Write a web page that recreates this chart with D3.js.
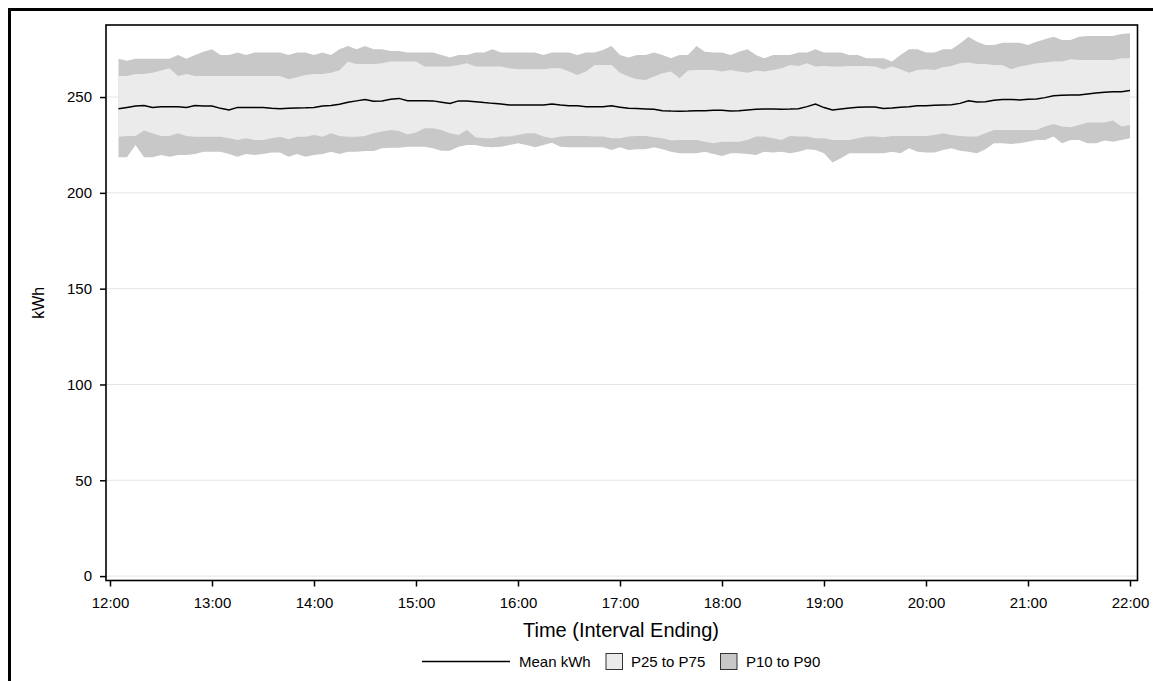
<!DOCTYPE html>
<html>
<head>
<meta charset="utf-8">
<script src="https://cdn.jsdelivr.net/npm/d3@7"></script>
<style>
  body { margin: 0; background: #fff; }
  svg { display: block; font-family: "Liberation Sans", Arial, sans-serif; }
</style>
</head>
<body>
<div id="chart"></div>
<script>
// 5 minute intervals, 12:05 .. 22:00
var startTime = new Date(2020, 0, 1, 12, 5);
var stepMinutes = 5;

var p90 = [270, 269, 270, 270, 270, 270, 270, 272, 270, 272, 273.7, 275,
  272, 272, 273.3, 272, 273.3, 273.3, 273.3, 273.3, 272, 273.3, 273.3, 272,
  273.3, 272, 275, 276.6, 275, 276.6, 275, 275, 274, 274,
  273.2, 273.2, 273.2, 273.2, 272.0, 270.7, 272.0, 272.0, 273.2, 273.2, 274.9, 273.2, 273.2, 273.2,
  273.2, 273.2, 272.0, 273.2, 273.2, 273.2, 272.0, 273.2, 273.2, 274.6, 276.7, 272.0,
  270.7, 272.0, 272.0, 273.2, 272.0, 270.2, 272.0, 272.0, 276.7, 273.7, 273.2, 273.2,
  272.0, 273.7, 274.9, 272.0, 270.2, 272.0, 272.0, 272.0, 273.2, 273.2, 274.9, 273.2,
  273.2, 273.2, 272.0, 272.0, 270.2, 270.2, 270.2, 268.5, 272.0, 274.9, 274.9, 273.2,
  273.2, 274.9, 274.9, 278.0, 281.5, 278.9, 277.2, 277.2, 278.4, 278.4, 278.4, 277.2,
  278.9, 280.1, 281.5, 279.8, 279.8, 281.5, 281.9, 281.9, 281.9, 281.9, 282.9, 283.3];

var p75 = [261, 261, 262, 262, 262.7, 263.8, 265, 261, 262, 261, 261, 261,
  261, 261, 261, 261, 261, 261, 261, 261, 259.3, 260.3, 261.5, 262,
  262, 262.7, 264, 268.4, 267.2, 267.2, 267.2, 267.6, 268.5, 268.5,
  268.5, 268.5, 265.9, 265.9, 265.9, 265.9, 266.7, 267.6, 265.9, 265.9, 265.9, 265.9, 265.0, 264.5,
  264.5, 264.5, 264.5, 265.0, 265.0, 263.3, 261.5, 263.3, 266.7, 266.7, 266.7, 262.7,
  260.7, 259.3, 258.9, 260.7, 262.4, 263.3, 259.8, 263.8, 264.1, 264.1, 264.1, 263.3,
  264.1, 263.3, 262.7, 263.8, 263.3, 264.1, 265.0, 266.7, 266.2, 267.6, 265.9, 266.2,
  265.9, 265.9, 266.2, 266.2, 266.2, 265.9, 264.5, 265.9, 264.5, 262.7, 264.1, 264.5,
  264.1, 265.5, 266.2, 267.6, 268.0, 267.3, 267.3, 266.7, 266.7, 264.5, 265.9, 266.7,
  267.6, 268.0, 268.5, 268.5, 269.7, 269.3, 269.3, 269.3, 269.3, 269.3, 270.2, 270.2];

var meanKwh = [243.9, 244.6, 245.3, 245.6, 244.6, 244.9, 244.9, 244.9, 244.6, 245.6, 245.3, 245.3,
  244.1, 243.2, 244.6, 244.6, 244.6, 244.6, 244.1, 243.9, 244.1, 244.3, 244.4, 244.6,
  245.3, 245.6, 246.3, 247.3, 248.0, 248.7, 247.8, 248.0, 248.8, 249.3,
  248.1, 248.1, 248.1, 248.0, 247.3, 246.7, 248.0, 248.0, 247.6, 247.1, 246.7, 246.4, 245.9, 245.9,
  245.9, 245.9, 245.9, 246.4, 245.9, 245.5, 245.4, 245.0, 245.0, 245.0, 245.4, 244.7,
  244.1, 244.0, 243.8, 243.6, 242.9, 242.7, 242.6, 242.7, 242.9, 242.9, 243.1, 243.1,
  242.7, 242.9, 243.3, 243.6, 243.8, 243.8, 243.6, 243.7, 243.9, 245.0, 246.4, 244.5,
  243.3, 243.8, 244.3, 244.7, 244.8, 244.8, 244.0, 244.3, 244.7, 245.0, 245.4, 245.5,
  245.7, 245.9, 246.0, 246.7, 248.1, 247.4, 247.6, 248.3, 248.7, 248.7, 248.5, 248.8,
  249.0, 249.7, 250.7, 250.9, 251.1, 251.1, 251.6, 252.1, 252.5, 252.8, 252.8, 253.4];

var p25 = [229.3, 229.7, 229.7, 232.5, 231.1, 229.7, 229.7, 231.1, 229.7, 229.3, 229.3, 229.3,
  229.3, 228.5, 227.6, 228.5, 227.6, 227.6, 228.5, 229.3, 228.0, 229.3, 229.3, 230.2,
  229.3, 231.1, 229.7, 229.3, 229.3, 229.7, 231.1, 232.0, 232.8, 232.3,
  230.5, 231.5, 233.7, 233.7, 232.8, 231.1, 230.2, 232.8, 229.0, 228.5, 228.5, 229.4, 229.4, 230.2,
  231.1, 231.1, 229.4, 228.5, 229.4, 229.7, 229.7, 229.7, 229.4, 229.4, 228.5, 228.5,
  229.4, 229.7, 229.7, 229.0, 228.5, 227.3, 227.6, 227.6, 227.6, 226.7, 225.9, 226.7,
  226.7, 226.7, 227.6, 229.4, 229.4, 228.5, 227.6, 229.7, 229.4, 229.4, 228.5, 228.5,
  227.6, 227.6, 227.6, 228.5, 229.4, 229.4, 229.0, 229.7, 229.7, 229.7, 229.7, 229.7,
  230.2, 231.1, 230.2, 229.7, 229.4, 229.4, 231.1, 232.8, 232.8, 232.8, 232.8, 232.8,
  232.8, 234.6, 236.0, 234.6, 234.2, 235.4, 236.7, 236.7, 236.7, 237.7, 234.6, 235.4];

var p10 = [218.6, 218.6, 225.0, 218.6, 218.6, 219.8, 218.9, 219.8, 219.8, 220.3, 221.5, 221.5,
  221.5, 220.3, 218.9, 220.3, 219.8, 220.3, 221.0, 221.0, 218.9, 220.3, 218.9, 219.8,
  220.3, 221.5, 220.3, 221.5, 221.5, 221.9, 221.9, 223.3, 223.6, 223.6,
  224.1, 224.1, 224.1, 223.3, 222.0, 222.0, 224.1, 225.0, 225.0, 224.1, 223.8, 224.1, 225.0, 225.9,
  225.0, 223.8, 225.0, 226.2, 224.1, 223.8, 223.8, 223.8, 223.8, 223.8, 222.4, 223.8,
  222.4, 222.7, 222.7, 223.8, 222.7, 221.5, 220.7, 220.7, 220.7, 221.5, 220.3, 219.3,
  220.7, 220.7, 220.3, 219.8, 221.5, 221.0, 221.5, 220.7, 221.5, 222.7, 222.4, 220.7,
  215.8, 218.0, 220.7, 220.7, 220.7, 220.7, 220.7, 221.5, 220.7, 223.3, 221.5, 221.0,
  221.0, 222.4, 223.3, 222.0, 221.5, 220.7, 222.7, 225.9, 225.9, 225.5, 225.9, 226.7,
  227.6, 227.6, 229.4, 225.9, 227.6, 227.6, 225.9, 225.9, 227.3, 226.7, 227.6, 228.5];

var yTicks = [0, 50, 100, 150, 200, 250];
var hourTicks = [12, 13, 14, 15, 16, 17, 18, 19, 20, 21, 22];
var legendLabels = ["Mean kWh", "P25 to P75", "P10 to P90"];

var colors = {inner: '#ebebeb', outer: '#c8c8c8', line: '#000000', grid: '#e6e6e6'};

var W = 1153, H = 681;
var plot = {left: 106, top: 25, right: 1137.5, bottom: 580.5};

var data = meanKwh.map(function(m, i) {
  return {
    t: new Date(startTime.getTime() + i * stepMinutes * 60000),
    mean: m, p10: p10[i], p25: p25[i], p75: p75[i], p90: p90[i]
  };
});

var svg = d3.select("#chart").append("svg")
  .attr("width", W)
  .attr("height", H);

// outer border (cropped on right / bottom)
svg.append("rect")
  .attr("x", 9.5).attr("y", 9.5)
  .attr("width", W + 20).attr("height", H + 20)
  .attr("fill", "none")
  .attr("stroke", "#000")
  .attr("stroke-width", 3);

var x = d3.scaleTime()
  .domain([new Date(2020, 0, 1, 11, 57, 39), new Date(2020, 0, 1, 22, 4, 25)])
  .range([plot.left, plot.right]);

var y = d3.scaleLinear()
  .domain([-2.3, 287.6])
  .range([plot.bottom, plot.top]);

// grid lines
svg.append("g")
  .selectAll("line")
  .data(yTicks)
  .enter().append("line")
  .attr("x1", plot.left).attr("x2", plot.right)
  .attr("y1", function(d) { return y(d); })
  .attr("y2", function(d) { return y(d); })
  .attr("stroke", colors.grid)
  .attr("stroke-width", 1);

var outerArea = d3.area()
  .x(function(d) { return x(d.t); })
  .y0(function(d) { return y(d.p10); })
  .y1(function(d) { return y(d.p90); });

var innerArea = d3.area()
  .x(function(d) { return x(d.t); })
  .y0(function(d) { return y(d.p25); })
  .y1(function(d) { return y(d.p75); });

svg.append("path")
  .datum(data)
  .attr("d", outerArea)
  .attr("fill", colors.outer);

svg.append("path")
  .datum(data)
  .attr("d", innerArea)
  .attr("fill", colors.inner);

svg.append("path")
  .datum(data)
  .attr("d", d3.line().x(function(d) { return x(d.t); }).y(function(d) { return y(d.mean); }))
  .attr("fill", "none")
  .attr("stroke", colors.line)
  .attr("stroke-width", 1.5);

// frame
svg.append("rect")
  .attr("x", plot.left).attr("y", plot.top)
  .attr("width", plot.right - plot.left)
  .attr("height", plot.bottom - plot.top)
  .attr("fill", "none")
  .attr("stroke", "#000")
  .attr("stroke-width", 1.6);

var xAxis = d3.axisBottom(x)
  .tickValues(hourTicks.map(function(h) { return new Date(2020, 0, 1, h, 0); }))
  .tickFormat(d3.timeFormat("%H:%M"))
  .tickSize(6)
  .tickSizeOuter(0);

var gx = svg.append("g")
  .attr("transform", "translate(0," + plot.bottom + ")")
  .call(xAxis);
gx.select(".domain").remove();
gx.selectAll("line").attr("stroke", "#000").attr("stroke-width", 1.5);
gx.selectAll("text")
  .attr("fill", "#000")
  .style("font-size", "15px")
  .attr("y", 27.5)
  .attr("dy", 0);

var yAxis = d3.axisLeft(y)
  .tickValues(yTicks)
  .tickSize(6)
  .tickSizeOuter(0);

var gy = svg.append("g")
  .attr("transform", "translate(" + plot.left + ",0)")
  .call(yAxis);
gy.select(".domain").remove();
gy.selectAll("line").attr("stroke", "#000").attr("stroke-width", 1.5);
gy.selectAll("text")
  .attr("fill", "#000")
  .style("font-size", "15px")
  .attr("x", -14);

svg.append("text")
  .attr("x", 621)
  .attr("y", 637)
  .attr("text-anchor", "middle")
  .style("font-size", "20px")
  .text("Time (Interval Ending)");

svg.append("text")
  .attr("transform", "translate(44," + ((plot.top + plot.bottom) / 2) + ") rotate(-90)")
  .attr("text-anchor", "middle")
  .style("font-size", "16px")
  .text("kWh");

// legend
var lg = svg.append("g").style("font-size", "15px");
lg.append("line")
  .attr("x1", 422).attr("x2", 510)
  .attr("y1", 661.5).attr("y2", 661.5)
  .attr("stroke", colors.line).attr("stroke-width", 1.5);
lg.append("text").attr("x", 519).attr("y", 667).text(legendLabels[0]);
lg.append("rect")
  .attr("x", 606).attr("y", 653.5).attr("width", 16.5).attr("height", 16)
  .attr("fill", colors.inner).attr("stroke", "#333").attr("stroke-width", 1);
lg.append("text").attr("x", 631).attr("y", 667).text(legendLabels[1]);
lg.append("rect")
  .attr("x", 720.5).attr("y", 653.5).attr("width", 16.5).attr("height", 16)
  .attr("fill", colors.outer).attr("stroke", "#333").attr("stroke-width", 1);
lg.append("text").attr("x", 746).attr("y", 667).text(legendLabels[2]);
</script>
</body>
</html>
